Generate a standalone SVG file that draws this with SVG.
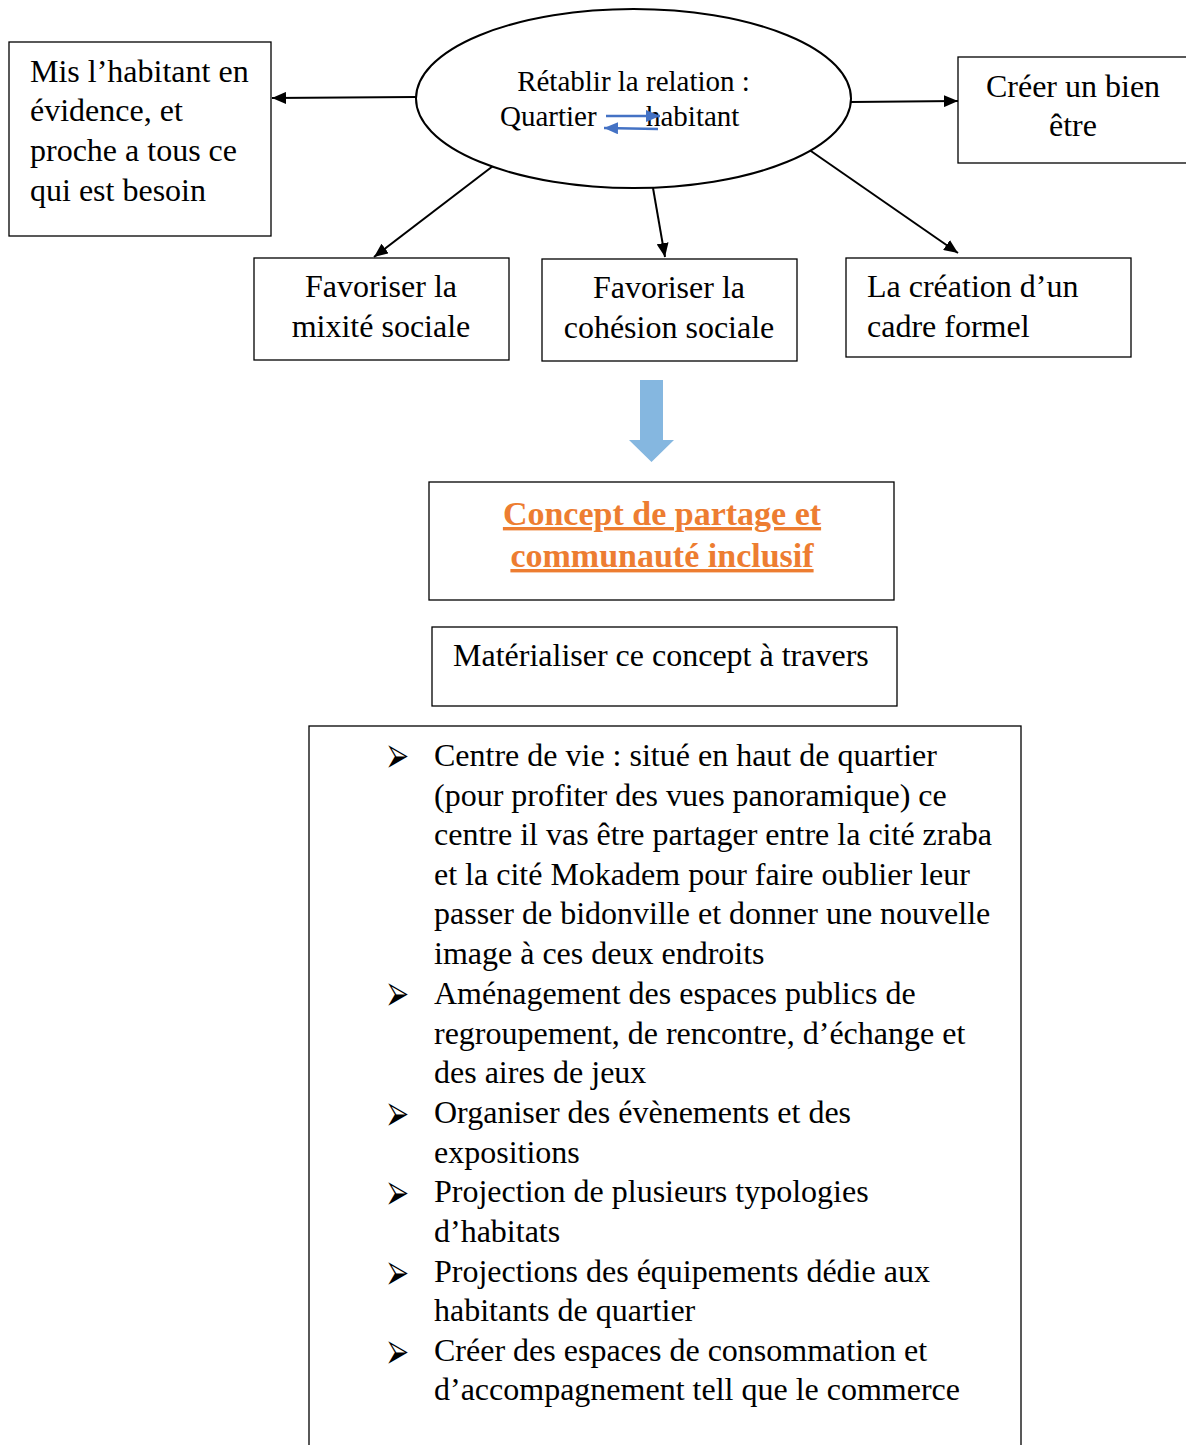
<svg xmlns="http://www.w3.org/2000/svg" width="1186" height="1445" viewBox="0 0 1186 1445">
<defs>
<style>
.box{fill:#fff;stroke:#000;stroke-width:1.3}
.t{font-family:'Liberation Serif',serif;font-size:32px;fill:#000}
.s{font-family:'Liberation Serif',serif;font-size:29px;fill:#000}
.c{text-anchor:middle}
.o{font-family:'Liberation Serif',serif;font-size:34px;font-weight:bold;fill:#ED7D31;text-decoration:underline;text-anchor:middle}
.b{font-family:'DejaVu Sans',sans-serif;font-size:28px;fill:#000}
.ln{stroke:#000;stroke-width:2;fill:none}
.bl{stroke:#4472C4;stroke-width:2.5;fill:none}
</style>
<marker id="ah" viewBox="0 0 14 12" refX="14" refY="6" markerWidth="14" markerHeight="12" markerUnits="userSpaceOnUse" orient="auto"><path d="M0,0 L14,6 L0,12 z" fill="#000"/></marker>
<marker id="ahB" viewBox="0 0 14 12" refX="14" refY="6" markerWidth="14" markerHeight="12" markerUnits="userSpaceOnUse" orient="auto"><path d="M0,0 L14,6 L0,12 z" fill="#4472C4"/></marker>
</defs>
<rect width="1186" height="1445" fill="#fff"/>
<g id="connectors">
<line class="ln" x1="416" y1="97" x2="272" y2="98" marker-end="url(#ah)"/>
<line class="ln" x1="851" y1="102" x2="958" y2="101" marker-end="url(#ah)"/>
<line class="ln" x1="493" y1="166" x2="374" y2="257" marker-end="url(#ah)"/>
<line class="ln" x1="653" y1="188" x2="665" y2="257" marker-end="url(#ah)"/>
<line class="ln" x1="808" y1="149" x2="958" y2="253" marker-end="url(#ah)"/>
<path d="M640,380 H663 V440 H674 L651.5,462 L629,440 H640 Z" fill="#85B7E0"/>
</g>
<g id="center">
<ellipse cx="633.5" cy="98.5" rx="217.5" ry="89.5" fill="#fff" stroke="#000" stroke-width="2"/>
<text class="s c" x="633.5" y="91">Rétablir la relation :</text>
<text class="s" x="500" y="126">Quartier</text>
<text class="s" x="646" y="126">habitant</text>
<line class="bl" x1="606" y1="116" x2="660" y2="116" marker-end="url(#ahB)"/>
<line class="bl" x1="658" y1="129" x2="604" y2="128" marker-end="url(#ahB)"/>
</g>
<g id="n-left">
<rect class="box" x="9" y="42" width="262" height="194"/>
<text class="t" x="30" y="82">Mis l’habitant en</text>
<text class="t" x="30" y="121">évidence, et</text>
<text class="t" x="30" y="161">proche a tous ce</text>
<text class="t" x="30" y="201">qui est besoin</text>
</g>
<g id="n-right">
<rect class="box" x="958" y="57" width="240" height="106"/>
<text class="t c" x="1073" y="97">Créer un bien</text>
<text class="t c" x="1073" y="136">être</text>
</g>
<g id="n-mixite">
<rect class="box" x="254" y="258" width="255" height="102"/>
<text class="t c" x="381" y="297">Favoriser la</text>
<text class="t c" x="381" y="337">mixité sociale</text>
</g>
<g id="n-cohesion">
<rect class="box" x="542" y="259" width="255" height="102"/>
<text class="t c" x="669" y="298">Favoriser la</text>
<text class="t c" x="669" y="338">cohésion sociale</text>
</g>
<g id="n-cadre">
<rect class="box" x="846" y="258" width="285" height="99"/>
<text class="t" x="867" y="297">La création d’un</text>
<text class="t" x="867" y="337">cadre formel</text>
</g>
<g id="n-concept">
<rect class="box" x="429" y="482" width="465" height="118"/>
<text class="o" x="662" y="525">Concept de partage et</text>
<text class="o" x="662" y="567">communauté inclusif</text>
</g>
<g id="n-materialiser">
<rect class="box" x="432" y="627" width="465" height="79"/>
<text class="t" x="453" y="666">Matérialiser ce concept à travers</text>
</g>
<g id="n-list">
<rect class="box" x="309" y="726" width="712" height="730"/>
<g class="b">
<text x="388" y="764">⮚</text>
<text x="388" y="1002">⮚</text>
<text x="388" y="1122">⮚</text>
<text x="388" y="1201">⮚</text>
<text x="388" y="1281">⮚</text>
<text x="388" y="1360">⮚</text>
</g>
<g class="t">
<text x="434" y="766">Centre de vie : situé en haut de quartier</text>
<text x="434" y="806">(pour profiter des vues panoramique) ce</text>
<text x="434" y="845">centre il vas être partager entre la cité zraba</text>
<text x="434" y="885">et la cité Mokadem pour faire oublier leur</text>
<text x="434" y="924">passer de bidonville et donner une nouvelle</text>
<text x="434" y="964">image à ces deux endroits</text>
<text x="434" y="1004">Aménagement des espaces publics de</text>
<text x="434" y="1044">regroupement, de rencontre, d’échange et</text>
<text x="434" y="1083">des aires de jeux</text>
<text x="434" y="1123">Organiser des évènements et des</text>
<text x="434" y="1163">expositions</text>
<text x="434" y="1202">Projection de plusieurs typologies</text>
<text x="434" y="1242">d’habitats</text>
<text x="434" y="1282">Projections des équipements dédie aux</text>
<text x="434" y="1321">habitants de quartier</text>
<text x="434" y="1361">Créer des espaces de consommation et</text>
<text x="434" y="1400">d’accompagnement tell que le commerce</text>
</g>
</g>
</svg>
